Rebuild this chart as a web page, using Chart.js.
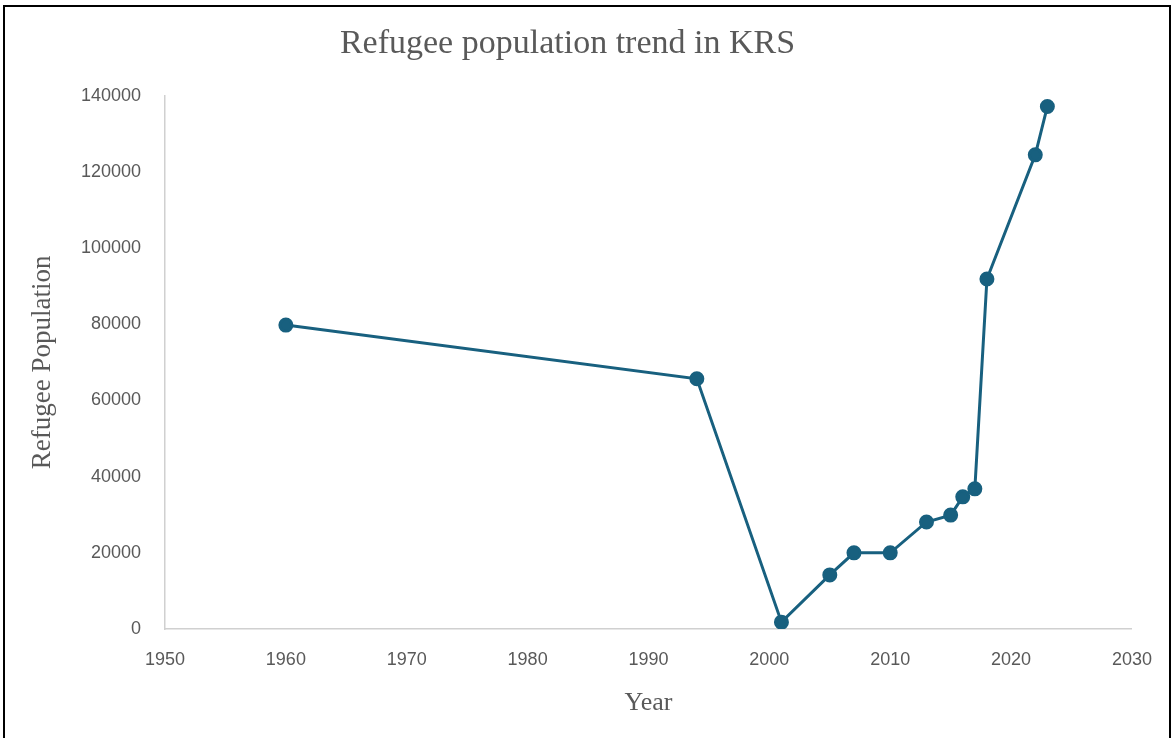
<!DOCTYPE html>
<html>
<head>
<meta charset="utf-8">
<script src="https://cdn.jsdelivr.net/npm/chart.js@4"></script>
<style>
  html, body { margin: 0; padding: 0; background: #fff; }
  #wrap { position: relative; width: 1172px; height: 738px; overflow: hidden; }
  #frame { position: absolute; left: 3px; top: 5px; width: 1164px; height: 760px; border: 2px solid #000; pointer-events: none; }
</style>
</head>
<body>
<div id="wrap">
  <canvas id="myChart" width="1172" height="738"></canvas>
  <div id="frame"></div>
</div>
<script>
const years = [1960, 1994, 2001, 2005, 2007, 2010, 2013, 2015, 2016, 2017, 2018, 2022, 2023];
const refugees = [79800, 65700, 1800, 14200, 20000, 20000, 28100, 29900, 34700, 36800, 91900, 124500, 137200];

const puntos = years.map((y, i) => ({ x: y, y: refugees[i] }));
const color = '#18607f';
const gris = '#595959';

const ctx = document.getElementById('myChart');
const myChart = new Chart(ctx, {
    type: 'scatter',
    data: {
        datasets: [{
            label: 'Refugee Population',
            data: puntos,
            showLine: true,
            borderColor: color,
            backgroundColor: color,
            borderWidth: 3,
            pointRadius: 6,
            pointHoverRadius: 6
        }]
    },
    options: {
        responsive: false,
        animation: false,
        layout: { padding: { left: 0, right: 37, top: 0, bottom: 0 } },
        plugins: {
            legend: { display: false },
            tooltip: { enabled: false },
            title: {
                display: true,
                text: 'Refugee population trend in KRS',
                color: gris,
                font: { family: 'Liberation Serif', size: 34, weight: 'normal' },
                padding: { top: 24, bottom: 31 }
            }
        },
        scales: {
            x: {
                type: 'linear',
                min: 1950,
                max: 2030,
                ticks: {
                    stepSize: 10,
                    color: gris,
                    padding: 20,
                    font: { family: 'Liberation Sans', size: 18 },
                    callback: v => String(v)
                },
                grid: { display: false, drawTicks: false },
                border: { color: '#d0d0d0', width: 1.5 },
                title: {
                    display: true,
                    text: 'Year',
                    color: gris,
                    font: { family: 'Liberation Serif', size: 26 },
                    padding: { top: 0, bottom: 19 }
                },
                afterFit: s => { s.height = 109; }
            },
            y: {
                min: 0,
                max: 140000,
                ticks: {
                    stepSize: 20000,
                    color: gris,
                    padding: 24,
                    font: { family: 'Liberation Sans', size: 18 },
                    callback: v => String(v)
                },
                grid: { display: false, drawTicks: false },
                border: { color: '#d0d0d0', width: 1.5 },
                title: {
                    display: true,
                    text: 'Refugee Population',
                    color: gris,
                    font: { family: 'Liberation Serif', size: 27 },
                    padding: { top: 27, bottom: 0 }
                },
                afterFit: s => { s.width = 165; }
            }
        }
    }
});
</script>
</body>
</html>
